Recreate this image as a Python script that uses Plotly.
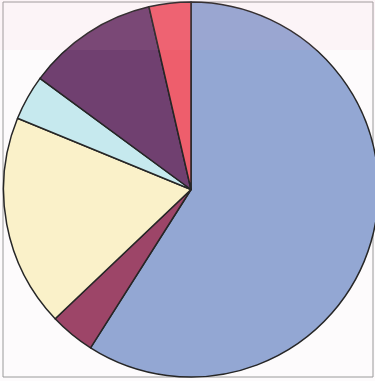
import plotly.graph_objects as go

# Slice shares, clockwise from 12 o'clock
labels = ["A", "B", "C", "D", "E", "F"]
values = [59.0, 3.9, 18.3, 3.9, 11.3, 3.6]
colors = ["#93a7d3", "#9d4568", "#faf1c9", "#c6e9ee", "#704070", "#ee5e6c"]

W, H = 380, 381

fig = go.Figure(
    go.Pie(
        labels=labels,
        values=values,
        sort=False,
        direction="clockwise",
        rotation=0,
        textinfo="none",
        hoverinfo="label+percent",
        marker=dict(colors=colors, line=dict(color="#262626", width=1.5)),
        domain=dict(x=[3 / W, 379 / W], y=[(H - 377) / H, (H - 2) / H]),
        showlegend=False,
    )
)

shapes = [
    # thin frame around the chart area
    dict(type="rect", xref="paper", yref="paper",
         x0=3 / W, x1=373 / W, y0=(H - 377) / H, y1=(H - 2) / H,
         line=dict(color="#9a9a9a", width=1), fillcolor="rgba(0,0,0,0)", layer="below"),
    # faint pink tint across the top band
    dict(type="rect", xref="paper", yref="paper",
         x0=0, x1=1, y0=(H - 50) / H, y1=1,
         line=dict(width=0), fillcolor="rgba(240,170,190,0.08)", layer="above"),
]

fig.update_layout(
    width=W,
    height=H,
    margin=dict(l=0, r=0, t=0, b=0),
    paper_bgcolor="#fdfbfc",
    plot_bgcolor="#fdfbfc",
    shapes=shapes,
)

fig.write_html("out.html", post_script="document.body.style.overflow='hidden';")
